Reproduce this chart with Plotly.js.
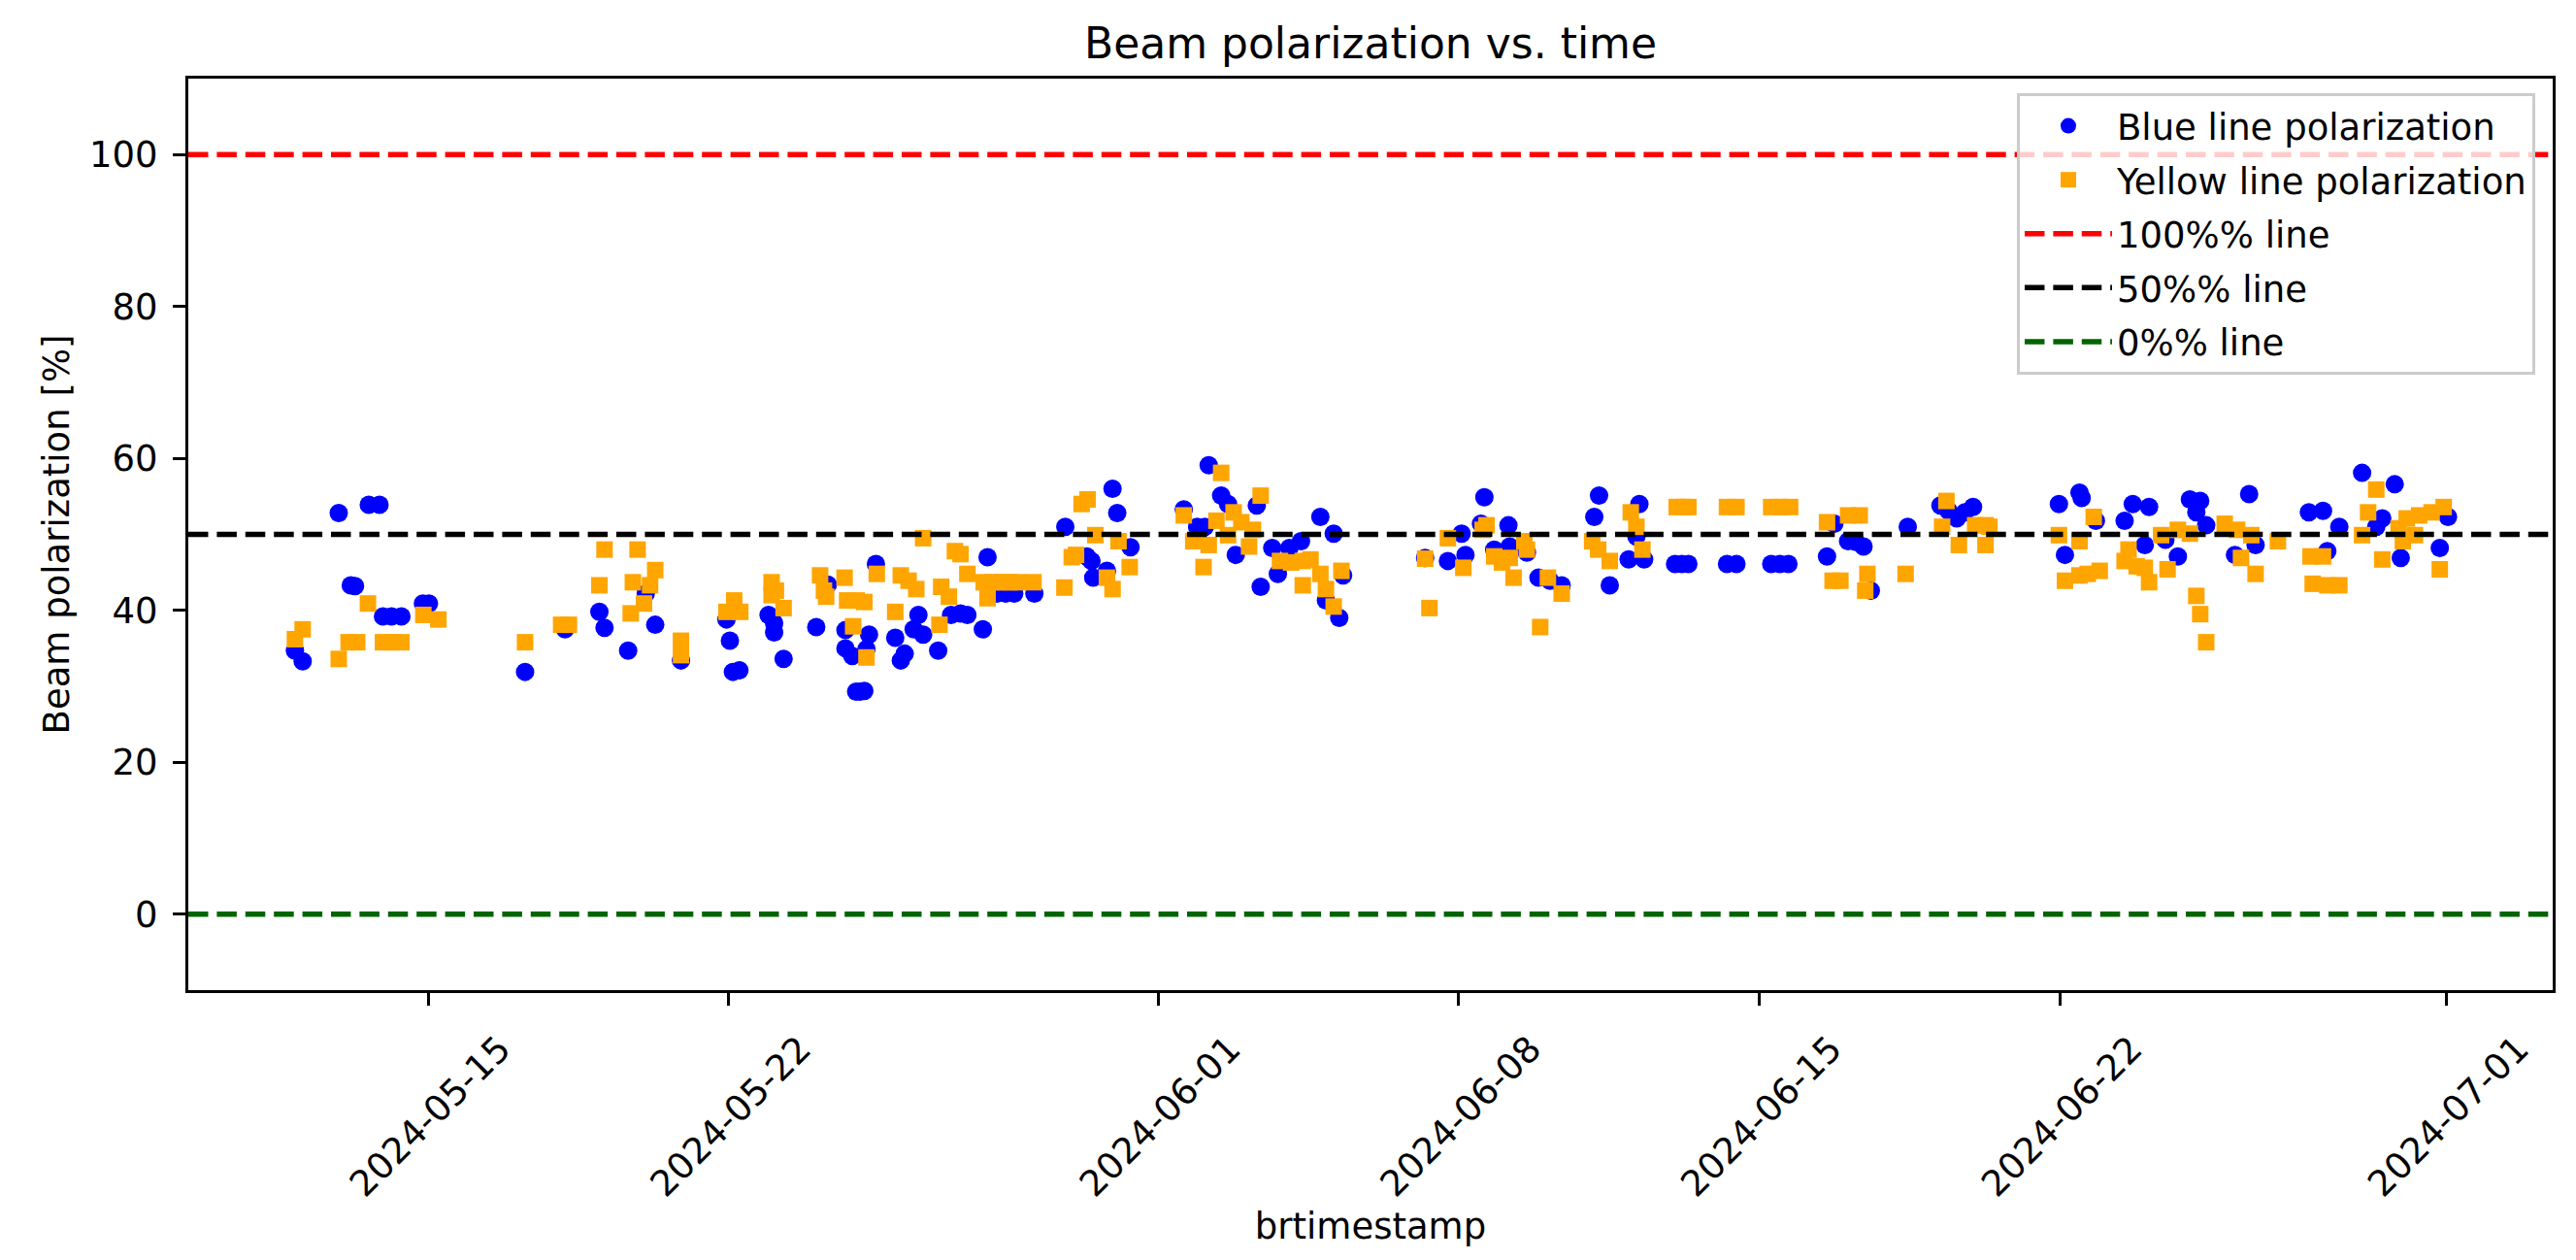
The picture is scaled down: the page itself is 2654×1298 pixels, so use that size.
<!DOCTYPE html>
<html>
<head>
<meta charset="utf-8">
<script src="https://cdn.plot.ly/plotly-3.0.1.min.js"></script>
<style>html,body{margin:0;padding:0;background:#fff;}</style>
</head>
<body>
<div id="chart" style="width:2654px;height:1298px;"></div>
<script>
// ---- data ----
const blueTime = [
'2024-05-11 21:36','2024-05-12 01:55','2024-05-12 22:05','2024-05-13 04:48','2024-05-13 07:12','2024-05-13 14:53','2024-05-13 20:53','2024-05-13 22:48','2024-05-14 03:36','2024-05-14 09:07','2024-05-14 21:07','2024-05-15 00:29',
'2024-05-17 06:14','2024-05-18 04:34','2024-05-18 23:46','2024-05-19 02:38','2024-05-19 15:50','2024-05-20 01:41','2024-05-20 06:58','2024-05-20 21:22','2024-05-21 22:48','2024-05-22 00:43','2024-05-22 02:24','2024-05-22 06:00',
'2024-05-22 22:19','2024-05-23 01:26','2024-05-23 01:26','2024-05-23 06:43','2024-05-24 00:58','2024-05-24 07:26','2024-05-24 17:17','2024-05-24 17:17','2024-05-24 21:07','2024-05-24 23:17','2024-05-25 01:26','2024-05-25 03:50','2024-05-25 05:02','2024-05-25 06:29','2024-05-25 10:19','2024-05-25 21:07',
'2024-05-26 00:14','2024-05-26 02:24','2024-05-26 07:26','2024-05-26 10:05','2024-05-26 12:43','2024-05-26 21:07','2024-05-27 04:19','2024-05-27 09:36','2024-05-27 13:26','2024-05-27 22:05','2024-05-28 00:43','2024-05-28 06:00','2024-05-28 10:48','2024-05-28 15:36','2024-05-29 02:53','2024-05-29 20:10',
'2024-05-30 08:10','2024-05-30 10:48','2024-05-30 11:46','2024-05-30 19:26','2024-05-30 22:34','2024-05-31 01:12','2024-05-31 08:38','2024-06-01 14:24','2024-06-01 21:50','2024-06-02 02:10','2024-06-02 04:19','2024-06-02 11:17','2024-06-02 15:07','2024-06-02 19:26',
'2024-06-03 07:12','2024-06-03 09:22','2024-06-03 15:50','2024-06-03 18:58','2024-06-04 01:26','2024-06-04 07:55','2024-06-04 18:43','2024-06-04 21:50','2024-06-05 02:10','2024-06-05 05:17','2024-06-05 07:26',
'2024-06-07 05:17','2024-06-07 18:00','2024-06-08 01:41','2024-06-08 03:50','2024-06-08 12:29','2024-06-08 14:24','2024-06-08 19:55','2024-06-09 03:50','2024-06-09 04:34','2024-06-09 14:10','2024-06-09 20:38','2024-06-10 03:07','2024-06-10 09:36',
'2024-06-11 03:50','2024-06-11 06:29','2024-06-11 12:29','2024-06-11 23:02','2024-06-12 03:22','2024-06-12 05:02','2024-06-12 07:41','2024-06-13 00:58','2024-06-13 04:48','2024-06-13 08:24','2024-06-14 06:00','2024-06-14 11:17','2024-06-15 06:43','2024-06-15 11:31','2024-06-15 16:19',
'2024-06-16 13:55','2024-06-16 18:00','2024-06-17 01:41','2024-06-17 06:00','2024-06-17 10:19','2024-06-17 14:24','2024-06-18 11:02',
'2024-06-19 05:17','2024-06-19 09:50','2024-06-19 14:24','2024-06-19 18:58','2024-06-19 23:31','2024-06-21 23:31','2024-06-22 02:53','2024-06-22 11:02','2024-06-22 12:14','2024-06-22 20:10','2024-06-23 12:14','2024-06-23 16:48','2024-06-23 23:31',
'2024-06-24 01:55','2024-06-24 11:02','2024-06-24 18:00','2024-06-25 00:43','2024-06-25 04:19','2024-06-25 06:29','2024-06-25 09:50','2024-06-26 01:55','2024-06-26 09:50','2024-06-26 13:26','2024-06-27 19:12','2024-06-28 03:07','2024-06-28 05:31','2024-06-28 12:14',
'2024-06-29 00:58','2024-06-29 08:53','2024-06-29 12:14','2024-06-29 19:12','2024-06-29 22:34','2024-06-30 20:24','2024-07-01 00:58'
];
const bluePol = [
34.7,33.3,52.8,43.3,43.2,53.9,53.9,39.2,39.2,39.2,40.9,40.9,
31.9,37.5,39.8,37.7,34.7,42.2,38.1,33.4,38.8,36.0,31.9,32.1,
39.4,38.3,37.1,33.6,37.8,43.4,37.4,35.0,34.0,29.3,29.3,29.4,34.9,36.8,46.1,36.4,
33.4,34.3,37.5,39.4,36.8,34.7,39.4,39.6,39.4,37.5,47.0,42.2,42.2,42.2,42.2,51.0,
47.1,46.5,44.3,45.2,56.0,52.8,48.3,53.3,51.0,51.0,59.1,55.1,54.0,47.3,
53.8,43.1,48.2,44.8,48.2,49.1,52.3,41.3,50.1,39.0,44.6,
46.9,46.5,50.1,47.3,51.4,54.9,48.0,51.2,48.4,47.6,44.3,43.9,43.3,
52.3,55.1,43.3,46.7,49.7,54.0,46.7,46.1,46.1,46.1,46.1,46.1,46.1,46.1,46.1,
47.1,51.4,49.1,49.0,48.4,42.6,51.0,
53.8,53.1,52.1,52.9,53.6,54.0,47.3,55.5,54.8,51.8,51.8,54.0,48.6,
53.6,49.3,47.1,54.6,52.9,54.4,51.2,47.3,55.3,48.6,52.9,53.1,47.8,51.0,
58.1,51.0,52.1,56.6,46.9,48.2,52.3
];
const yellowTime = [
'2024-05-11 21:36','2024-05-12 01:55','2024-05-12 22:05','2024-05-13 03:36','2024-05-13 08:24','2024-05-13 14:24','2024-05-13 22:48','2024-05-14 03:36','2024-05-14 09:07','2024-05-14 21:22','2024-05-15 05:46',
'2024-05-17 06:14','2024-05-18 02:24','2024-05-18 06:43','2024-05-18 23:46','2024-05-19 02:38','2024-05-19 17:17','2024-05-19 18:29','2024-05-19 21:07','2024-05-20 00:43','2024-05-20 04:05','2024-05-20 06:58','2024-05-20 21:22','2024-05-20 21:22','2024-05-21 22:48','2024-05-22 03:07','2024-05-22 06:29',
'2024-05-23 00:00','2024-05-23 00:00','2024-05-23 02:24','2024-05-23 06:43','2024-05-24 03:07','2024-05-24 05:17','2024-05-24 06:29','2024-05-24 16:48','2024-05-24 18:14','2024-05-24 21:36','2024-05-24 23:31','2024-05-25 03:50','2024-05-25 05:02','2024-05-25 10:48','2024-05-25 21:07',
'2024-05-26 00:14','2024-05-26 04:34','2024-05-26 08:53','2024-05-26 12:43','2024-05-26 21:50','2024-05-26 22:48','2024-05-27 03:07','2024-05-27 06:29','2024-05-27 09:36','2024-05-27 13:26','2024-05-27 22:34','2024-05-28 00:43','2024-05-28 03:36','2024-05-28 08:24','2024-05-28 13:12','2024-05-28 18:00','2024-05-29 02:24',
'2024-05-29 19:41','2024-05-29 23:46','2024-05-30 02:10','2024-05-30 05:17','2024-05-30 08:38','2024-05-30 12:58','2024-05-30 19:26','2024-05-30 22:34','2024-05-31 01:55','2024-05-31 08:10',
'2024-06-01 14:24','2024-06-01 19:41','2024-06-02 01:26','2024-06-02 04:19','2024-06-02 08:38','2024-06-02 11:17','2024-06-02 15:07','2024-06-02 18:14','2024-06-02 22:34','2024-06-03 02:53','2024-06-03 05:02','2024-06-03 09:22','2024-06-03 20:10',
'2024-06-04 02:24','2024-06-04 08:53','2024-06-04 08:53','2024-06-04 13:12','2024-06-04 18:43','2024-06-04 21:50','2024-06-05 02:10','2024-06-05 06:29',
'2024-06-07 05:17','2024-06-07 07:41','2024-06-07 18:00','2024-06-08 02:38','2024-06-08 13:26','2024-06-08 15:36','2024-06-08 19:55','2024-06-09 00:14','2024-06-09 04:34','2024-06-09 06:43','2024-06-09 12:43','2024-06-09 14:10','2024-06-09 21:36','2024-06-10 01:55','2024-06-10 09:36',
'2024-06-11 02:38','2024-06-11 06:00','2024-06-11 12:29','2024-06-12 00:14','2024-06-12 03:22','2024-06-12 06:43','2024-06-13 01:55','2024-06-13 05:17','2024-06-13 08:24','2024-06-14 06:00','2024-06-14 11:17','2024-06-15 06:43','2024-06-15 12:00','2024-06-15 17:17',
'2024-06-16 13:55','2024-06-16 17:02','2024-06-16 21:22','2024-06-17 01:41','2024-06-17 08:10','2024-06-17 11:17','2024-06-17 12:29','2024-06-18 09:50',
'2024-06-19 06:14','2024-06-19 08:38','2024-06-19 15:36','2024-06-20 00:43','2024-06-20 06:29','2024-06-20 06:29','2024-06-20 08:38','2024-06-21 23:31','2024-06-22 02:53','2024-06-22 11:02','2024-06-22 11:02','2024-06-22 15:36','2024-06-22 18:58','2024-06-22 22:19',
'2024-06-23 12:14','2024-06-23 14:24','2024-06-23 18:58','2024-06-23 23:31','2024-06-24 01:55','2024-06-24 08:38','2024-06-24 12:14','2024-06-24 18:00','2024-06-25 00:43','2024-06-25 04:19','2024-06-25 06:29','2024-06-25 09:50','2024-06-25 20:10',
'2024-06-26 03:07','2024-06-26 05:17','2024-06-26 11:02','2024-06-26 13:26','2024-06-27 01:55','2024-06-27 20:10','2024-06-27 21:22','2024-06-28 03:07','2024-06-28 05:31','2024-06-28 12:14',
'2024-06-29 00:58','2024-06-29 04:19','2024-06-29 08:53','2024-06-29 12:14','2024-06-29 21:22','2024-06-29 23:46','2024-06-30 01:55','2024-06-30 06:29','2024-06-30 08:53','2024-06-30 15:50','2024-06-30 20:24','2024-06-30 22:34'
];
const yellowPol = [
36.2,37.5,33.6,35.8,35.8,40.9,35.8,35.8,35.8,39.4,38.8,
35.8,38.1,38.1,43.3,48.0,39.6,43.7,48.0,40.9,43.3,45.3,36.0,34.1,39.8,41.3,39.8,
43.7,42.0,42.6,40.3,44.6,42.6,41.8,44.3,41.3,37.9,41.3,41.1,33.8,44.8,39.8,
44.6,43.9,42.8,49.5,38.1,43.1,41.8,47.8,47.4,44.8,43.7,41.6,43.7,43.7,43.7,43.7,43.7,
43.0,47.0,47.3,54.0,54.6,49.9,44.3,42.8,49.1,45.7,
52.5,49.1,45.7,48.6,51.8,58.1,49.9,52.9,51.6,48.4,50.6,55.1,46.5,
46.3,46.5,43.3,46.7,44.8,42.8,40.5,45.2,
46.8,40.3,49.5,45.6,50.6,51.2,47.1,46.3,46.9,44.3,49.1,48.0,37.8,44.3,42.2,
49.1,48.0,46.5,52.9,51.0,48.0,53.6,53.6,53.6,53.6,53.6,53.6,53.6,53.6,
51.6,43.9,43.9,52.5,52.5,42.6,44.8,44.8,
51.0,54.4,48.6,51.2,51.2,48.6,51.0,49.9,43.9,49.1,44.6,44.8,52.3,45.2,
46.5,48.0,45.8,45.6,43.7,49.9,45.4,50.6,50.1,41.9,39.5,35.8,51.4,
50.6,46.9,49.9,44.8,49.1,47.1,43.5,47.1,43.3,43.3,
49.9,52.9,55.9,46.7,50.8,49.1,52.1,49.9,52.5,52.9,45.4,53.6
];
const refLevels = [100, 50, 0];
const refNames = ['100%% line', '50%% line', '0%% line'];
const refColors = ['#ff0000', '#000000', '#006400'];
const xTickVals = ['2024-05-15','2024-05-22','2024-06-01','2024-06-08','2024-06-15','2024-06-22','2024-07-01'];
const xTickText = ['2024-05-15','2024-05-22','2024-06-01','2024-06-08','2024-06-15','2024-06-22','2024-07-01'];
const xRange = ['2024-05-09 10:00','2024-07-03 11:30'];
const yRange = [-10, 110];
const yTickVals = [0, 20, 40, 60, 80, 100];

// ---- drawing ----
const FONT = 'DejaVu Sans, Verdana, sans-serif';
const traces = [
  {type:'scatter', mode:'markers', x: blueTime, y: bluePol, name:'Blue line polarization',
   marker:{color:'#0000ff', size:19, symbol:'circle', line:{width:0}}, legendrank:1, legendgroup:'a'},
  {type:'scatter', mode:'markers', x: yellowTime, y: yellowPol, name:'Yellow line polarization',
   marker:{color:'#ffa500', size:17, symbol:'square', line:{width:0}}, legendrank:2, legendgroup:'b'}
];
const shapes = refLevels.map((lv, i) => ({
  type:'line', xref:'paper', x0:0, x1:1, yref:'y', y0:lv, y1:lv,
  line:{color:refColors[i], width:5.5, dash:'20.5px,8.9px'},
  layer:'above', showlegend:true, name:refNames[i], legendrank:3+i, legendgroup:'g'+i
}));
const axisCommon = {
  showline:true, linecolor:'#000', linewidth:3, mirror:true,
  ticks:'outside', ticklen:13, tickwidth:3, tickcolor:'#000',
  showgrid:false, zeroline:false,
  tickfont:{family:FONT, size:37, color:'#000'}
};
const layout = {
  width:2654, height:1298,
  margin:{l:194, r:24, t:81, b:278, pad:0},
  paper_bgcolor:'#fff', plot_bgcolor:'#fff',
  font:{family:FONT, size:37, color:'#000'},
  title:{text:'Beam polarization vs. time', font:{family:FONT, size:44, color:'#000'},
         x:0.5, xref:'paper', xanchor:'center', y:1-45/1298, yref:'container', yanchor:'middle'},
  xaxis:Object.assign({}, axisCommon, {
    type:'date', range:xRange, tickmode:'array', tickvals:xTickVals, ticktext:xTickText,
    tickangle:-45, ticklabelshift:74, ticklabelstandoff:8,
    title:{text:'brtimestamp', font:{family:FONT, size:37, color:'#000'}, standoff:10}
  }),
  yaxis:Object.assign({}, axisCommon, {
    range:yRange, tickmode:'array', tickvals:yTickVals, ticklabelstandoff:8,
    title:{text:'Beam polarization [%]', font:{family:FONT, size:37, color:'#000'}, standoff:10}
  }),
  shapes:shapes,
  showlegend:true,
  legend:{x:0.9926, xanchor:'right', y:0.984, yanchor:'top',
          bgcolor:'rgba(255,255,255,0.8)', bordercolor:'#cccccc', borderwidth:3,
          font:{family:FONT, size:37, color:'#000'}, traceorder:'grouped', tracegroupgap:4.5,
          itemwidth:90}
};
Plotly.newPlot('chart', traces, layout, {displayModeBar:false, staticPlot:true});
</script>
</body>
</html>
